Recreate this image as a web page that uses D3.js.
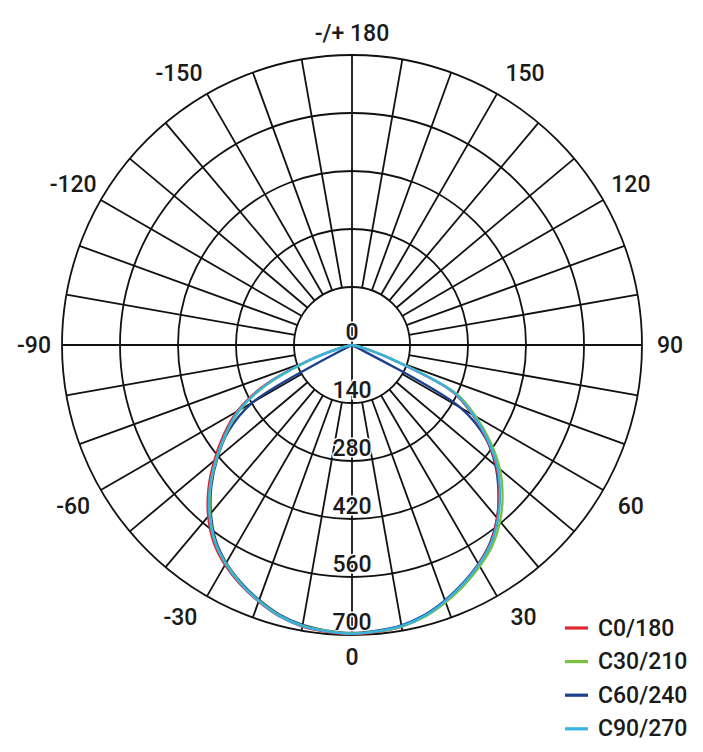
<!DOCTYPE html>
<html>
<head>
<meta charset="utf-8">
<script src="https://cdn.jsdelivr.net/npm/d3@7"></script>
<style>
html,body{margin:0;padding:0;background:#fff;}
svg{display:block;}
text{font-family:Roboto,"DejaVu Sans",sans-serif;fill:#1a1a1a;font-weight:500;}
</style>
</head>
<body>
<svg id="chart" width="703" height="752"></svg>
<script>
// ---- data ----
const gammaAngles = [-90,-85,-80,-75,-70,-65,-60,-55,-50,-45,-40,-35,-30,-25,-20,-15,-10,-5,0,5,10,15,20,25,30,35,40,45,50,55,60,65,70,75,80,85,90];
const seriesNames = ["C0/180","C30/210","C60/240","C90/270"];
const seriesColors = ["#e0262f","#7cc242","#1d3f8c","#35b3e4"];
const c0_180  = [0,2,9,38,120,238,320,378,434,490,540,582,613,638,659,678,690,695,698,695,690,678,659,637,611,583,545,502,455,397,335,268,108,30,8,2,0];
const c30_210 = [0,2,8,34,112,228,312,370,426,483,533,577,609,635,657,676,688,693,696,694,690,679,661,640,617,591,556,514,466,408,345,278,115,32,9,2,0];
const c60_240 = [0,0,0,0,0,0,276,365,424,480,530,574,607,633,655,674,686,692,695,692,687,675,656,634,610,582,545,500,452,395,302,0,0,0,0,0,0];
const c90_270 = [0,2,8,35,115,232,315,372,428,485,535,578,610,636,658,677,689,694,697,694,689,677,658,636,612,585,548,505,458,400,338,272,110,30,8,2,0];
const ringValues = [140,280,420,560,700];
const ringLabels = ["0","140","280","420","560","700"];
const ringLabelValues = [0,140,280,420,560,700];
const spokeAngles = d3.range(-180,180,10);
const outerTickAngles = [180,150,120,90,60,30,0,-30,-60,-90,-120,-150];
const outerTickLabels = ["-/+ 180","150","120","90","60","30","0","-30","-60","-90","-120","-150"];

// ---- layout ----
const cx = 352, cy = 345, R = 290;
const svg = d3.select("#chart");
const g = svg.append("g").attr("transform",`translate(${cx},${cy})`);
const rScale = d3.scaleLinear().domain([0,700]).range([0,R]);
const toRad = gdeg => Math.PI - gdeg*Math.PI/180; // 0 at bottom, +90 right
const px = (gdeg,r) => r*Math.sin(toRad(gdeg));
const py = (gdeg,r) => -r*Math.cos(toRad(gdeg));

// rings
g.selectAll("circle.ring").data(ringValues).join("circle")
  .attr("class","ring").attr("r",d=>rScale(d))
  .attr("fill","none").attr("stroke","#111").attr("stroke-width",1.8);

// spokes
g.selectAll("line.spoke").data(spokeAngles).join("line")
  .attr("class","spoke")
  .attr("x1",d=> (d%90===0)?0:px(d,rScale(140))).attr("y1",d=>(d%90===0)?0:py(d,rScale(140)))
  .attr("x2",d=>px(d,R)).attr("y2",d=>py(d,R))
  .attr("stroke","#111").attr("stroke-width",1.8);

// ring labels
g.selectAll("text.rl").data(ringLabelValues).join("text")
  .attr("class","rl")
  .attr("x",0).attr("y",(d)=>rScale(d)-5)
  .attr("text-anchor","middle")
  .attr("font-size",23)
  .attr("stroke","#fff").attr("stroke-width",3).attr("paint-order","stroke")
  .text((d,i)=>ringLabels[i]);

// curves
const allSeries = [c0_180,c30_210,c60_240,c90_270];
const drawOrder = [2,0,1,3];
const line = d3.lineRadial()
  .angle(d=>toRad(d[0]))
  .radius(d=>rScale(d[1]))
  .curve(d3.curveCatmullRom.alpha(0.5));
drawOrder.forEach(i=>{
  const vals = allSeries[i];
  g.append("path")
    .datum(gammaAngles.map((a,k)=>[a,vals[k]]))
    .attr("d",line)
    .attr("fill","none")
    .attr("stroke",seriesColors[i])
    .attr("stroke-width",2.4)
    .attr("stroke-linejoin","round");
});

// outer labels
const labAngle = a => {
  const m = Math.abs(a);
  if (m===30) return a + Math.sign(a)*2.2;
  if (m===150) return a - Math.sign(a)*2.5;
  return a;
};
const labR = a => (Math.abs(a)===180||a===0)?312:(Math.abs(a)===90?318:322);
g.selectAll("text.ol").data(outerTickAngles).join("text")
  .attr("class","ol")
  .attr("x",d=>px(labAngle(d),labR(d)))
  .attr("y",d=>py(labAngle(d),labR(d)))
  .attr("text-anchor","middle")
  .attr("dominant-baseline","central")
  .attr("font-size",23)
  .text((d,i)=>outerTickLabels[i]);

// legend
const leg = svg.append("g").attr("transform","translate(565,628)");
const rowH = 33.6;
seriesNames.forEach((n,i)=>{
  const row = leg.append("g").attr("transform",`translate(0,${i*rowH})`);
  row.append("line").attr("x1",0).attr("x2",23).attr("y1",0).attr("y2",0)
    .attr("stroke",seriesColors[i]).attr("stroke-width",3.2);
  row.append("text").attr("x",33).attr("y",0).attr("dominant-baseline","central")
    .attr("font-size",23).text(n);
});
</script>
</body>
</html>
